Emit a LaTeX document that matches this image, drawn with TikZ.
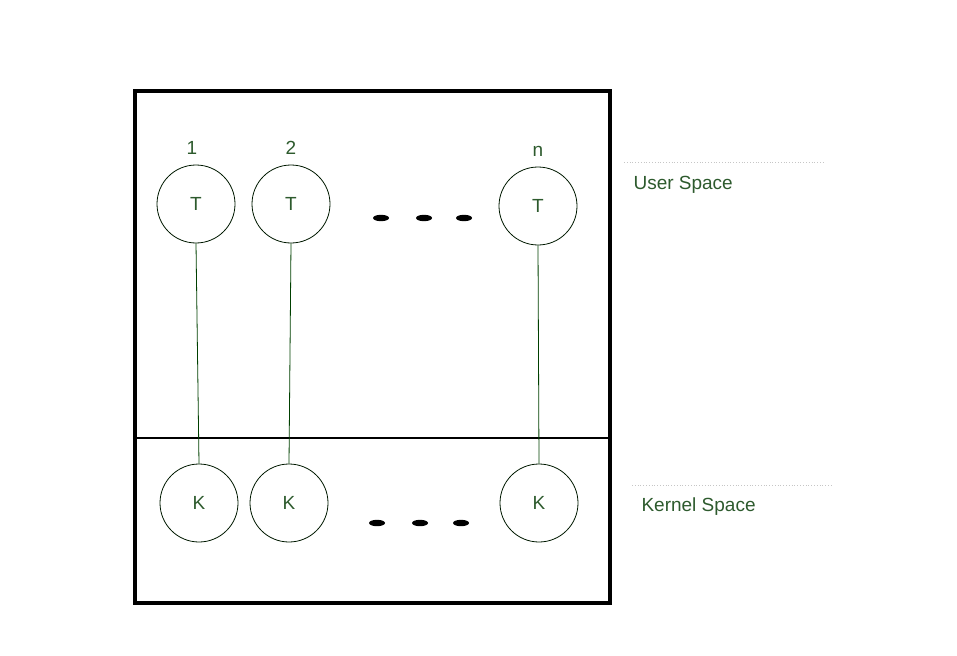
\documentclass[tikz,border=0pt]{standalone}
\usepackage{fontspec}
\setmainfont{Liberation Sans}
\usetikzlibrary{positioning}
\definecolor{labelgreen}{HTML}{2D5A2D}

\begin{document}
\begin{tikzpicture}[x=1pt, y=-1pt, every node/.style={align=center, text=labelgreen, font=\fontsize{19}{21}\selectfont},
    uthread/.style={draw=black!90!green, circle, minimum size=78pt, inner sep=0pt, line width=0.8pt},
    link/.style={draw=black!75!green, line width=0.8pt}]
    \useasboundingbox (0,0) rectangle (957,655);

    % outer frame and split
    \draw[line width=3.2pt] (135,91) rectangle (610,603);
    \draw[line width=1.6pt] (135,438) -- (610,438);

    % user threads
    \node (t1) [uthread] at (196,204) {T};
    \node (t2) [uthread] at (291,204) {T};
    \node (tn) [uthread] at (538,206) {T};
    \node (n1) [above=7pt of t1, xshift=-4pt] {1};
    \node (n2) [above=7pt of t2] {2};
    \node (nn) [above=7pt of tn] {n};

    % kernel threads
    \node (k1) [uthread] at (199,503) {K};
    \node (k2) [uthread] at (289,503) {K};
    \node (kn) [uthread] at (539,503) {K};

    % one to one mapping
    \draw[link] (t1.south) -- (k1.north);
    \draw[link] (t2.south) -- (k2.north);
    \draw[link] (tn.south) -- (kn.north);

    % dots
    \foreach \x in {381,424,464} \fill (\x,218) ellipse (8pt and 3.2pt);
    \foreach \x in {377,420,461} \fill (\x,523) ellipse (8pt and 3.2pt);

    % space labels
    \draw[gray!45, dotted, line width=0.8pt] (624,162) -- (825,162);
    \draw[gray!45, dotted, line width=0.8pt] (632,485) -- (831,485);
    \node (user) [anchor=west] at (630,185) {User Space};
    \node (kernel) [anchor=west] at (638,507) {Kernel Space};
\end{tikzpicture}
\end{document}
